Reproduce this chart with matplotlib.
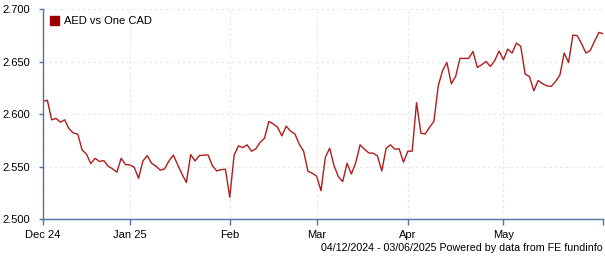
import matplotlib
matplotlib.use("Agg")
import matplotlib.pyplot as plt
from matplotlib.patches import Patch
import numpy as np

# AED vs One CAD, one value per business day (04/12/2024 - 03/06/2025)
rates = [
    2.6120, 2.6133, 2.5946, 2.5960, 2.5924, 2.5946, 2.5860, 2.5820, 2.5810, 2.5660,
    2.5620, 2.5530, 2.5580, 2.5550, 2.5558, 2.5505, 2.5480, 2.5448, 2.5580, 2.5520,
    2.5517, 2.5495, 2.5390, 2.5555, 2.5606, 2.5533, 2.5505, 2.5467, 2.5480, 2.5555,
    2.5610, 2.5520, 2.5430, 2.5350, 2.5615, 2.5555, 2.5606, 2.5610, 2.5612, 2.5510,
    2.5460, 2.5472, 2.5476, 2.5210, 2.5610, 2.5698, 2.5682, 2.5708, 2.5648, 2.5670,
    2.5733, 2.5771, 2.5930, 2.5908, 2.5876, 2.5793, 2.5886, 2.5838, 2.5812, 2.5714,
    2.5648, 2.5457, 2.5438, 2.5410, 2.5272, 2.5590, 2.5676, 2.5510, 2.5406, 2.5358,
    2.5533, 2.5431, 2.5539, 2.5708, 2.5667, 2.5631, 2.5629, 2.5603, 2.5460, 2.5676,
    2.5708, 2.5667, 2.5670, 2.5543, 2.5648, 2.5648, 2.6110, 2.5819, 2.5812, 2.5876,
    2.5930, 2.6270, 2.6415, 2.6491, 2.6289, 2.6358, 2.6530, 2.6530, 2.6530, 2.6596,
    2.6444, 2.6470, 2.6501, 2.6453, 2.6510, 2.6600, 2.6517, 2.6619, 2.6581, 2.6676,
    2.6644, 2.6381, 2.6358, 2.6222, 2.6320, 2.6289, 2.6270, 2.6263, 2.6310, 2.6371,
    2.6581, 2.6491, 2.6752, 2.6746, 2.6670, 2.6581, 2.6606, 2.6695, 2.6777, 2.6765,
]

# month ticks as business-day positions
tick_pos = [0, 20, 43, 63, 84, 106, 129]
tick_labels = ["Dec 24", "Jan 25", "Feb", "Mar", "Apr", "May", ""]
y_ticks = [2.500, 2.550, 2.600, 2.650, 2.700]

plt.rcParams['font.family'] = ['Liberation Sans', 'DejaVu Sans']

fig = plt.figure(figsize=(6.05, 2.6), dpi=100)
ax = fig.add_axes([43 / 605, 1 - 219.3 / 260, (603.3 - 43) / 605, (219.3 - 9) / 260])

x = np.arange(len(rates))
ax.plot(x, rates, color='#b01c1c', lw=1.0)

ax.set_xlim(0, len(rates) - 1)
ax.set_ylim(2.5, 2.7)
ax.set_xticks(tick_pos)
ax.set_xticklabels(tick_labels)
ax.set_yticks(y_ticks)
ax.set_yticklabels(["%.3f" % v for v in y_ticks])

ax.grid(True, color='#e8e8e8', ls=(0, (2.5, 2.5)), lw=0.8)
ax.set_axisbelow(True)

for s in ['top', 'right']:
    ax.spines[s].set_visible(False)
for s in ['left', 'bottom']:
    ax.spines[s].set_color('#4f73a6')
    ax.spines[s].set_linewidth(1.0)

ax.tick_params(axis='x', length=4, width=1, color='#4f73a6', pad=4, labelsize=8)
ax.tick_params(axis='y', length=3, width=1, color='#4f73a6', pad=6, labelsize=8)

leg = ax.legend(handles=[Patch(facecolor='#990000', edgecolor='#990000')],
                labels=["AED vs One CAD"], loc='upper left', frameon=False,
                handlelength=0.8, handleheight=0.9, handletextpad=0.5,
                borderaxespad=0.2, fontsize=8)

fig.text(603 / 605, 1 - 248 / 260,
         "04/12/2024 - 03/06/2025 Powered by data from FE fundinfo",
         ha='right', va='center', fontsize=7.7)

fig.savefig("out.png", dpi=100)
